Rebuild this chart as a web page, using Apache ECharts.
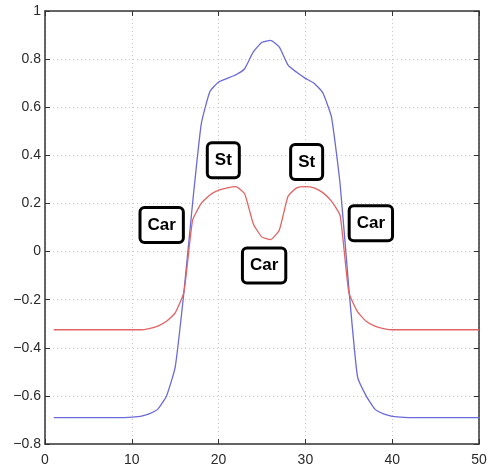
<!DOCTYPE html>
<html>
<head>
<meta charset="utf-8">
<script src="https://cdn.jsdelivr.net/npm/echarts@6/dist/echarts.min.js"></script>
<style>
  html, body { margin: 0; padding: 0; background: #fff; }
  #chart { width: 490px; height: 472px; }
</style>
</head>
<body>
<div id="chart"></div>
<script>
// Sample index (1..50)
const xs = [1,2,3,4,5,6,7,8,9,10,11,12,13,14,15,16,17,18,19,20,21,22,23,24,25,
            26,27,28,29,30,31,32,33,34,35,36,37,38,39,40,41,42,43,44,45,46,47,48,49,50];

// Blue profile
const blueValues = [-0.69,-0.69,-0.69,-0.69,-0.69,-0.69,-0.69,-0.69,-0.69,-0.688,
                    -0.685,-0.675,-0.655,-0.60,-0.48,-0.17,0.20,0.53,0.665,0.705,
                    0.72,0.735,0.76,0.83,0.87,0.878,0.85,0.775,0.745,0.72,
                    0.70,0.66,0.56,0.28,-0.15,-0.52,-0.60,-0.655,-0.675,-0.685,
                    -0.688,-0.69,-0.69,-0.69,-0.69,-0.69,-0.69,-0.69,-0.69,-0.69];

// Red profile
const redValues = [-0.325,-0.325,-0.325,-0.325,-0.325,-0.325,-0.325,-0.325,-0.325,-0.325,
                   -0.325,-0.32,-0.31,-0.29,-0.255,-0.17,0.13,0.20,0.235,0.255,
                   0.265,0.27,0.24,0.115,0.06,0.05,0.09,0.23,0.265,0.27,
                   0.265,0.245,0.21,0.15,-0.17,-0.25,-0.29,-0.31,-0.32,-0.325,
                   -0.325,-0.325,-0.325,-0.325,-0.325,-0.325,-0.325,-0.325,-0.325,-0.325];

// Boxed region labels: [x, y, text]
const annotations = [
  [13.5, 0.108, 'Car'],
  [20.6, 0.377, 'St'],
  [25.3, -0.06, 'Car'],
  [30.2, 0.37, 'St'],
  [37.6, 0.116, 'Car']
];

const xTicks = { min: 0, max: 50, interval: 10 };
const yTicks = { min: -0.8, max: 1, interval: 0.2 };

const chart = echarts.init(document.getElementById('chart'), null, { renderer: 'canvas' });

const axisColor = '#333';
const gridLine = { show: true, lineStyle: { color: '#c8c8c8', type: [1, 3], width: 1 } };
const fmtY = v => {
  const r = Math.round(v * 10) / 10;
  if (Math.abs(r) < 1e-9) return '0';
  const s = Math.abs(r) === 1 ? '1' : Math.abs(r).toFixed(1);
  return (r < 0 ? '\u2212' : '') + s;
};
const labelFont = { fontFamily: 'Liberation Sans, Arial, sans-serif', fontSize: 14, color: '#2a2a2a' };
const frameAxis = { show: true, onZero: false, lineStyle: { color: axisColor, width: 1.5 } };
const frameTick = { show: true, inside: true, length: 5, lineStyle: { color: axisColor } };

chart.setOption({
  animation: false,
  backgroundColor: '#fff',
  grid: { left: 45, right: 11, top: 11, bottom: 28 },
  xAxis: [
    {
      type: 'value', position: 'bottom', min: xTicks.min, max: xTicks.max, interval: xTicks.interval,
      axisLine: frameAxis, axisTick: frameTick,
      axisLabel: Object.assign({ margin: 9, showMinLabel: true, showMaxLabel: true }, labelFont),
      splitLine: gridLine
    },
    {
      type: 'value', position: 'top', min: xTicks.min, max: xTicks.max, interval: xTicks.interval,
      axisLine: frameAxis, axisTick: frameTick,
      axisLabel: { show: false }, splitLine: { show: false }
    }
  ],
  yAxis: [
    {
      type: 'value', position: 'left', min: yTicks.min, max: yTicks.max, interval: yTicks.interval,
      axisLine: frameAxis, axisTick: frameTick,
      axisLabel: Object.assign({ margin: 4, formatter: fmtY }, labelFont),
      splitLine: gridLine
    },
    {
      type: 'value', position: 'right', min: yTicks.min, max: yTicks.max, interval: yTicks.interval,
      axisLine: frameAxis, axisTick: frameTick,
      axisLabel: { show: false }, splitLine: { show: false }
    }
  ],
  series: [
    {
      type: 'line', name: 'blue', showSymbol: false, symbol: 'none', smooth: 0.15,
      data: xs.map((x, i) => [x, blueValues[i]]),
      lineStyle: { color: '#6a6ad8', width: 1.3 }, z: 3
    },
    {
      type: 'line', name: 'red', showSymbol: false, symbol: 'none', smooth: 0.15,
      data: xs.map((x, i) => [x, redValues[i]]),
      lineStyle: { color: '#e06464', width: 1.3 }, z: 4
    },
    {
      type: 'scatter', name: 'regions', symbolSize: 1, z: 10,
      itemStyle: { color: 'rgba(0,0,0,0)', opacity: 1 },
      data: annotations.map(a => ({ value: [a[0], a[1]], name: a[2] })),
      label: {
        show: true, position: [0, 0], align: 'center', verticalAlign: 'middle',
        formatter: p => p.name,
        fontFamily: 'Liberation Sans, Arial, sans-serif',
        fontWeight: 'bold', fontSize: 17, color: '#000', lineHeight: 18,
        textBorderWidth: 0, textBorderColor: 'transparent', textShadowBlur: 0,
        backgroundColor: '#fff', borderColor: '#000', borderWidth: 3, borderRadius: 3,
        padding: [7, 6]
      },
      emphasis: { disabled: true },
      silent: true
    }
  ]
});
</script>
</body>
</html>
